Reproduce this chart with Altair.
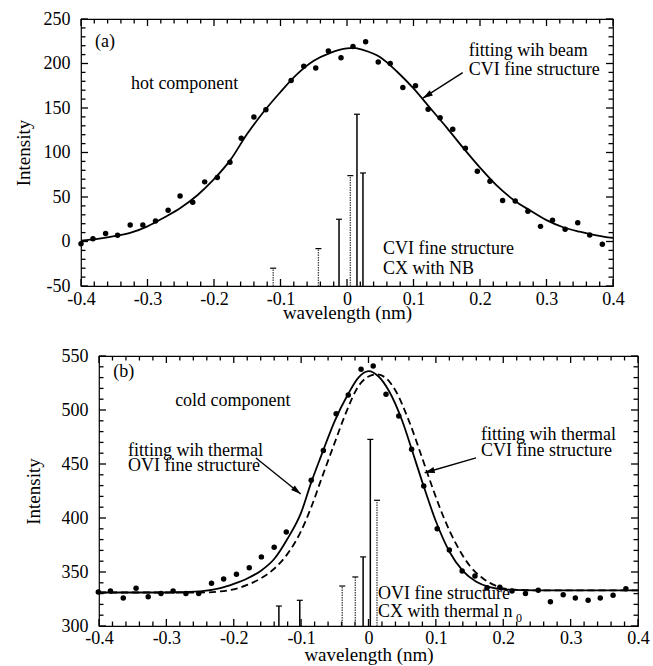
import altair as alt
import pandas as pd

FONT = "Liberation Serif"

# ---------------- Panel (a): hot component ----------------
a_pts_x = [-0.400, -0.382, -0.363, -0.345, -0.326, -0.307, -0.288, -0.269, -0.251, -0.232,
           -0.214, -0.195, -0.176, -0.159, -0.140, -0.122, -0.084, -0.065, -0.047, -0.028,
           -0.009, 0.009, 0.028, 0.047, 0.065, 0.084, 0.103, 0.122, 0.140, 0.159,
           0.178, 0.196, 0.215, 0.234, 0.253, 0.272, 0.291, 0.309, 0.328, 0.347,
           0.365, 0.384]
a_pts_y = [-2.5, 3, 9, 7, 18.5, 18.5, 23, 35, 51, 44,
           67, 72, 89, 116, 140, 148, 181, 197, 195, 214,
           206.5, 219, 224.5, 201.7, 200, 173, 175, 148.5, 139, 126,
           104.7, 79, 67.6, 46, 45.5, 34, 17, 24, 13.7, 21,
           7.3, -3]

a_fit_x = [-0.400, -0.375, -0.350, -0.325, -0.300, -0.275, -0.250, -0.225, -0.200, -0.175,
           -0.150, -0.125, -0.100, -0.075, -0.050, -0.025, 0.000, 0.010, 0.025, 0.050,
           0.075, 0.100, 0.125, 0.150, 0.175, 0.200, 0.225, 0.250, 0.275, 0.300,
           0.325, 0.350, 0.375, 0.400]
a_fit_y = [1, 3, 6, 10, 17, 27, 38, 52, 70, 92,
           121, 146, 168, 188, 203, 212, 217, 217.5, 215, 207,
           191, 172, 150, 128, 105, 83, 63, 47, 35, 24,
           16, 11, 7, 4]

a_fs_x = [-0.111, -0.043, -0.012, 0.005, 0.015, 0.024]
a_fs_top = [-30, -8, 25, 74, 143, 77]
a_fs_dotted = [True, True, False, True, False, False]

a_text_x = [-0.379, -0.325, 0.183, 0.183, 0.054, 0.054]
a_text_y = [224, 177, 214, 193, -8.4, -31]
a_text = ["(a)", "hot component", "fitting wih beam", "CVI fine structure",
          "CVI fine structure", "CX with NB"]

a_arrow = dict(x=[0.174], y=[189.7], xt=[0.114], yt=[161], angle=[238])

# ---------------- Panel (b): cold component ----------------
b_pts_x = [-0.401, -0.383, -0.364, -0.345, -0.327, -0.308, -0.290, -0.271, -0.252, -0.233,
           -0.215, -0.196, -0.177, -0.159, -0.140, -0.122, -0.085, -0.067, -0.048, -0.030,
           -0.011, 0.007, 0.026, 0.045, 0.064, 0.082, 0.102, 0.120, 0.139, 0.158,
           0.176, 0.195, 0.213, 0.233, 0.252, 0.270, 0.289, 0.307, 0.326, 0.344,
           0.363, 0.382]
b_pts_y = [331.5, 332.4, 326, 335, 327, 330, 332.4, 330, 330, 339.5,
           343.5, 348, 354, 364, 373, 387, 435, 462.5, 496.6, 513.9,
           537.7, 540.7, 514.5, 494.4, 463.6, 429.6, 390, 370.4, 351, 346.3,
           335.5, 336, 332.4, 330, 333, 322.5, 329, 326, 323.8, 326,
           328.4, 334.5]

b_ovi_x = [-0.400, -0.300, -0.250, -0.220, -0.200, -0.180, -0.160, -0.140, -0.120, -0.100,
           -0.085, -0.070, -0.050, -0.030, -0.015, 0.000, 0.015, 0.030, 0.050, 0.065,
           0.080, 0.100, 0.120, 0.140, 0.160, 0.180, 0.200, 0.250, 0.300, 0.400]
b_ovi_y = [331, 331, 332, 335, 339, 344, 351, 362, 381, 405,
           433, 458, 490, 515, 530, 536, 531, 518, 490, 462,
           433, 397, 369, 351, 341, 336, 334, 333, 333, 333]

b_cvi_x = [-0.400, -0.280, -0.250, -0.220, -0.200, -0.180, -0.160, -0.140, -0.120, -0.100,
           -0.085, -0.070, -0.050, -0.035, -0.015, 0.000, 0.012, 0.025, 0.040, 0.060,
           0.080, 0.095, 0.110, 0.130, 0.150, 0.170, 0.190, 0.210, 0.250, 0.400]
b_cvi_y = [331, 331, 331, 332, 334, 338, 344, 353, 367, 388,
           410, 436, 470, 495, 522, 531, 533, 530, 518, 490,
           455, 428, 403, 376, 356, 344, 337, 334, 333, 333]

b_fs_x = [-0.133, -0.102, -0.039, -0.0196, -0.008, 0.0027, 0.0126]
b_fs_top = [318.5, 323.8, 337, 345.4, 364, 472.8, 416.4]
b_fs_dotted = [False, False, True, True, False, False, True]

b_text_x = [-0.379, -0.287, -0.357, -0.357, 0.167, 0.167, 0.014, 0.014]
b_text_y = [535.2, 508, 462.5, 447.7, 476.4, 461.6, 329.2, 313.4]
b_text = ["(b)", "cold component", "fitting wih thermal", "OVI fine structure",
          "fitting wih thermal", "CVI fine structure", "OVI fine structure",
          "CX with thermal n"]
b_sub = dict(x=[0.219], y=[307.4], text=["0"])

b_arrow = dict(x=[-0.167, 0.1596], y=[455.6, 455.6], xt=[-0.1006, 0.0834],
               yt=[422.2, 441.9], angle=[129, 254])

X_VALUES = [-0.4, -0.3, -0.2, -0.1, 0, 0.1, 0.2, 0.3, 0.4]
X_MINOR = [round(-0.4 + 0.02 * i, 3) for i in range(41)]

ARROW_SHAPE = "M0,0 L0.6,2 L-0.6,2 Z"


def make_panel(xdom, ydom, yvals, ymin_step, w, h, pts_x, pts_y, curves, fs_x, fs_top,
               fs_dotted, tx, ty, tt, arrow, ytitle_pad, xlab_pad, xtitle_pad, sub=None):
    xpx = w / (xdom[1] - xdom[0])
    ypx = h / (ydom[1] - ydom[0])
    xscale = alt.Scale(domain=xdom, nice=False, zero=False)
    yscale = alt.Scale(domain=ydom, nice=False, zero=False)
    xaxis = alt.Axis(values=X_VALUES, title="wavelength (nm)", grid=False, ticks=False,
                     tickSize=0, domain=False, labelPadding=xlab_pad, titlePadding=xtitle_pad,
                     labelFlush=False, labelOverlap=False,
                     labelExpr="datum.value == 0 ? '0' : (datum.value < 0 ? '-' : '') + format(abs(datum.value), '.1f')")
    yaxis = alt.Axis(values=yvals, title="Intensity", grid=False, ticks=False, tickSize=0,
                     domain=False, labelPadding=11, titlePadding=ytitle_pad,
                     labelFlush=False, labelOverlap=False, minExtent=38, maxExtent=38,
                     labelExpr="(datum.value < 0 ? '-' : '') + format(abs(datum.value), 'd')")

    def X(f):
        return alt.X(f, type="quantitative", scale=xscale, axis=xaxis)

    def Y(f):
        return alt.Y(f, type="quantitative", scale=yscale, axis=yaxis)

    layers = []

    # frame ticks (inward): vertical ticks on top/bottom, horizontal on left/right
    vrows, hrows = [], []
    xmaj = X_VALUES
    xmin = [v for v in X_MINOR if all(abs(v - m) > 1e-6 for m in xmaj)]
    ymaj = yvals
    ymn = []
    v = ydom[0]
    while v <= ydom[1] + 1e-9:
        if all(abs(v - m) > 1e-6 for m in ymaj):
            ymn.append(v)
        v += ymin_step
    for vals, L in [(xmaj, 7), (xmin, 4.5)]:
        for v in vals:
            vrows.append(dict(x=v, y=ydom[0], y2=ydom[0] + L / ypx))
            vrows.append(dict(x=v, y=ydom[1], y2=ydom[1] - L / ypx))
    for vals, L in [(ymaj, 7), (ymn, 4.5)]:
        for v in vals:
            hrows.append(dict(y=v, x=xdom[0], x2=xdom[0] + L / xpx))
            hrows.append(dict(y=v, x=xdom[1], x2=xdom[1] - L / xpx))
    layers.append(alt.Chart(pd.DataFrame(vrows)).mark_rule(color="black", strokeWidth=1.3).encode(
        x=X("x"), y=Y("y"), y2="y2"))
    layers.append(alt.Chart(pd.DataFrame(hrows)).mark_rule(color="black", strokeWidth=1.3).encode(
        x=X("x"), x2="x2", y=Y("y")))

    # fine-structure lines
    fdf = pd.DataFrame({"x": fs_x, "top": fs_top, "dotted": fs_dotted})
    fdf["base"] = ydom[0]
    fdf["xl"] = fdf["x"] - 3 / xpx
    fdf["xr"] = fdf["x"] + 3 / xpx
    solid = fdf[~fdf["dotted"]]
    dotted = fdf[fdf["dotted"]]
    layers.append(alt.Chart(solid).mark_rule(color="black", strokeWidth=1.5).encode(
        x=X("x"), y=Y("base"), y2="top"))
    layers.append(alt.Chart(dotted).mark_rule(color="#444444", strokeWidth=1.3,
                                             strokeDash=[1.5, 1]).encode(
        x=X("x"), y=Y("base"), y2="top"))
    layers.append(alt.Chart(fdf).mark_rule(color="black", strokeWidth=1.2).encode(
        x=X("xl"), x2="xr", y=Y("top")))

    # fitted curves
    for cx, cy, dash in curves:
        cdf = pd.DataFrame({"x": cx, "y": cy})
        kw = dict(color="black", strokeWidth=1.8, interpolate="monotone")
        if dash:
            kw["strokeDash"] = [7, 4]
        layers.append(alt.Chart(cdf).mark_line(**kw).encode(x=X("x"), y=Y("y")))

    # data points
    pdf = pd.DataFrame({"x": pts_x, "y": pts_y})
    layers.append(alt.Chart(pdf).mark_circle(color="black", size=30, opacity=1).encode(
        x=X("x"), y=Y("y")))

    # annotations
    adf = pd.DataFrame({"x": tx, "y": ty, "t": tt})
    layers.append(alt.Chart(adf).mark_text(align="left", baseline="middle", font=FONT,
                                           fontSize=18, color="black").encode(
        x=X("x"), y=Y("y"), text="t"))
    if sub is not None:
        sdf = pd.DataFrame(sub)
        layers.append(alt.Chart(sdf).mark_text(align="left", baseline="middle", font=FONT,
                                               fontSize=12, color="black").encode(
            x=X("x"), y=Y("y"), text="text"))

    # arrows
    ardf = pd.DataFrame(arrow)
    layers.append(alt.Chart(ardf).mark_rule(color="black", strokeWidth=1.4).encode(
        x=X("x"), x2="xt", y=Y("y"), y2="yt"))
    layers.append(alt.Chart(ardf).mark_point(shape=ARROW_SHAPE, filled=True, color="black",
                                             size=100, opacity=1).encode(
        x=X("xt"), y=Y("yt"), angle=alt.Angle("angle:Q", scale=None)))

    return alt.layer(*layers).properties(width=w, height=h)


panel_a = make_panel([-0.4, 0.4], [-50, 250], [-50, 0, 50, 100, 150, 200, 250], 10, 532, 267,
                     a_pts_x, a_pts_y, [(a_fit_x, a_fit_y, False)],
                     a_fs_x, a_fs_top, a_fs_dotted, a_text_x, a_text_y, a_text, a_arrow,
                     ytitle_pad=10, xlab_pad=4, xtitle_pad=-5)

panel_b = make_panel([-0.4, 0.4], [300, 550], [300, 350, 400, 450, 500, 550], 10, 539, 270,
                     b_pts_x, b_pts_y, [(b_ovi_x, b_ovi_y, False), (b_cvi_x, b_cvi_y, True)],
                     b_fs_x, b_fs_top, b_fs_dotted, b_text_x, b_text_y, b_text, b_arrow,
                     ytitle_pad=18, xlab_pad=3, xtitle_pad=-2, sub=b_sub)


def spacer(wd):
    return alt.Chart(pd.DataFrame({"v": [0]})).mark_rule(opacity=0).encode(
        x=alt.value(0), x2=alt.value(wd), y=alt.value(0)
    ).properties(width=wd, height=10, view=alt.ViewBackground(stroke="transparent"))


top = alt.hconcat(spacer(1), panel_a, spacing=0)
bottom = alt.hconcat(spacer(11), panel_b, spacing=0)

chart = alt.vconcat(top, bottom, spacing=23).properties(
    padding={"left": 10, "top": 9, "right": 0, "bottom": 0},
    background="white",
).configure_view(stroke="black", strokeWidth=1.2).configure_axis(
    labelFont=FONT, labelFontSize=18, labelColor="black",
    titleFont=FONT, titleFontSize=19, titleFontWeight="normal", titleColor="black",
)

chart.save("out.html", embed_options={"renderer": "svg", "actions": False})
